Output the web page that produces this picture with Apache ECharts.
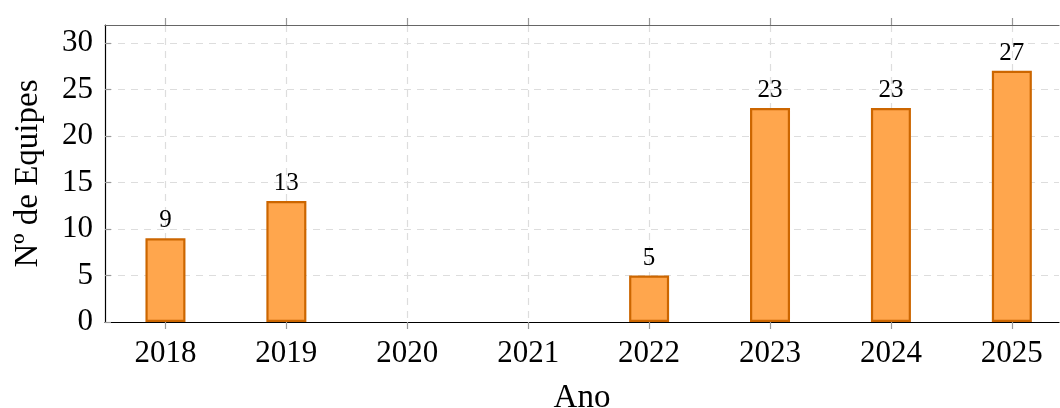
<!DOCTYPE html>
<html>
<head>
<meta charset="utf-8">
<script src="https://cdn.jsdelivr.net/npm/echarts@6/dist/echarts.min.js"></script>
<style>
  html, body { margin: 0; padding: 0; background: #fff; }
  #chart { width: 1060px; height: 408px; }
</style>
</head>
<body>
<div id="chart"></div>
<script>
var years = [2018, 2019, 2020, 2021, 2022, 2023, 2024, 2025];
var equipes = [9, 13, null, null, 5, 23, 23, 27];
var yTicks = [0, 5, 10, 15, 20, 25, 30];

var font = 'Liberation Serif';
var dom = document.getElementById("chart");
var myChart = echarts.init(dom);

option = {
    animation: false,
    textStyle: { fontFamily: font },
    grid: { left: 105, right: 1, top: 25, bottom: 86, outerBoundsMode: 'none', containLabel: false },
    xAxis: [
        {
            type: 'value',
            min: 2017.5,
            max: 2025.39,
            name: 'Ano',
            nameLocation: 'middle',
            nameGap: 60,
            nameTextStyle: { fontFamily: font, fontSize: 33, color: '#000' },
            axisLine: { onZero: false, lineStyle: { color: '#000', width: 1.2 } },
            axisTick: { customValues: years, length: 7, inside: false, lineStyle: { color: '#999', width: 1.2 } },
            axisLabel: {
                customValues: years,
                margin: 16,
                fontFamily: font, fontSize: 31, color: '#000',
                formatter: function (v) { return String(v); }
            },
            splitLine: { show: true, lineStyle: { color: '#ddd', type: [7, 6], width: 1.2 } }
        },
        {
            type: 'value',
            position: 'top',
            min: 2017.5,
            max: 2025.39,
            axisLine: { onZero: false, lineStyle: { color: '#666', width: 1.2 } },
            axisTick: { customValues: years, length: 7, inside: false, lineStyle: { color: '#999', width: 1.2 } },
            axisLabel: { show: false },
            splitLine: { show: false }
        }
    ],
    yAxis: {
        type: 'value',
        min: 0,
        max: 31.93,
        name: 'Nº de Equipes',
        nameLocation: 'middle',
        nameGap: 60,
        nameTextStyle: { fontFamily: font, fontSize: 33, color: '#000' },
        axisLine: { show: true, lineStyle: { color: '#000', width: 1.2 } },
        axisTick: { show: true, customValues: yTicks, inside: true, length: 6, lineStyle: { color: '#999', width: 1.2 } },
        axisLabel: { customValues: yTicks, margin: 12, fontFamily: font, fontSize: 31, color: '#000' },
        splitLine: { show: true, lineStyle: { color: '#ddd', type: [7, 6], width: 1.2 } }
    },
    series: [
        {
            name: 'Equipes',
            type: 'bar',
            barWidth: 40,
            data: years.map(function (y, i) { return [y, equipes[i]]; }),
            itemStyle: { color: '#ffa64d', borderColor: '#cc6600', borderWidth: 2.2 },
            label: {
                show: true,
                position: 'top',
                distance: 5,
                fontFamily: font,
                fontSize: 25,
                color: '#000',
                formatter: function (p) { return p.value[1]; }
            }
        }
    ]
};

if (option && typeof option === "object") {
    myChart.setOption(option, true);
}
</script>
</body>
</html>
